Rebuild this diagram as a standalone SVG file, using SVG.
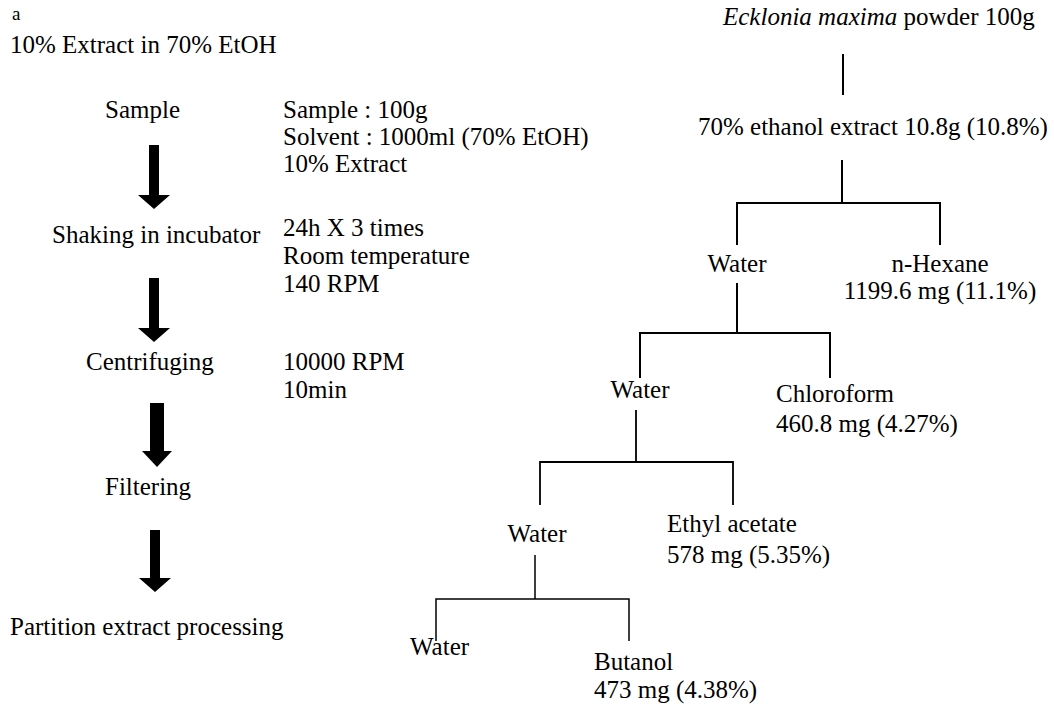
<svg xmlns="http://www.w3.org/2000/svg" width="1054" height="706" viewBox="0 0 1054 706">
<style>
text{font-family:"Liberation Serif","Times New Roman",serif;font-size:25px;fill:#000}
.c{text-anchor:middle}
.ln{stroke:#000;stroke-width:2;fill:none}
.ar{fill:#000}
</style>
<rect width="1054" height="706" fill="#fff"/>
<g id="title">
<text x="12" y="20" style="font-size:19px">a</text>
<text x="10" y="53">10% Extract in 70% EtOH</text>
</g>
<g id="step-sample"><text x="105" y="118">Sample</text></g>
<g id="step-shaking"><text x="52" y="243">Shaking in incubator</text></g>
<g id="step-centrifuging"><text x="86" y="370">Centrifuging</text></g>
<g id="step-filtering"><text x="105" y="495">Filtering</text></g>
<g id="step-partition"><text x="10" y="635">Partition extract processing</text></g>
<g id="cond-sample">
<text x="283" y="118">Sample : 100g</text>
<text x="283" y="145">Solvent : 1000ml (70% EtOH)</text>
<text x="283" y="172">10% Extract</text>
</g>
<g id="cond-shaking">
<text x="283" y="236">24h X 3 times</text>
<text x="283" y="264">Room temperature</text>
<text x="283" y="292">140 RPM</text>
</g>
<g id="cond-centrifuging">
<text x="283" y="370">10000 RPM</text>
<text x="283" y="398">10min</text>
</g>
<g id="arrows">
<path class="ar" d="M149,145 h10 v50 h11 l-16,14 l-16,-14 h11 z"/>
<path class="ar" d="M149,278 h10 v50 h11 l-16,14 l-16,-14 h11 z"/>
<path class="ar" d="M150,403 h14 v48 h8 l-15,16 l-15,-16 h8 z"/>
<path class="ar" d="M150,530 h10 v48 h11 l-16,14 l-16,-14 h11 z"/>
</g>
<g id="n-powder"><text x="723" y="25"><tspan font-style="italic">Ecklonia maxima</tspan> powder 100g</text></g>
<g id="n-ethanol"><text x="698" y="135">70% ethanol extract 10.8g (10.8%)</text></g>
<g id="n-water1"><text class="c" x="737" y="272">Water</text></g>
<g id="n-hexane"><text class="c" x="940" y="272">n-Hexane</text><text class="c" x="940" y="299">1199.6 mg (11.1%)</text></g>
<g id="n-water2"><text class="c" x="640" y="398">Water</text></g>
<g id="n-chloroform"><text x="776" y="402">Chloroform</text><text x="776" y="432">460.8 mg (4.27%)</text></g>
<g id="n-water3"><text class="c" x="537" y="542">Water</text></g>
<g id="n-ethyl"><text x="667" y="532">Ethyl acetate</text><text x="667" y="563">578 mg (5.35%)</text></g>
<g id="n-water4"><text x="410" y="655">Water</text></g>
<g id="n-butanol"><text x="594" y="670">Butanol</text><text x="594" y="698">473 mg (4.38%)</text></g>
<g id="connectors">
<path class="ln" d="M843,54 V95"/>
<path class="ln" d="M842,160 V203 M737,245 V203 H940 V245"/>
<path class="ln" d="M737,283 V333 M640,378 V333 H830 V378"/>
<path class="ln" style="stroke-width:1.8" d="M636,410 V462 M540,505 V462 H733 V505"/>
<path class="ln" style="stroke-width:1.5" d="M535,555 V599 M436,641 V599 H629 V641"/>
</g>
</svg>
